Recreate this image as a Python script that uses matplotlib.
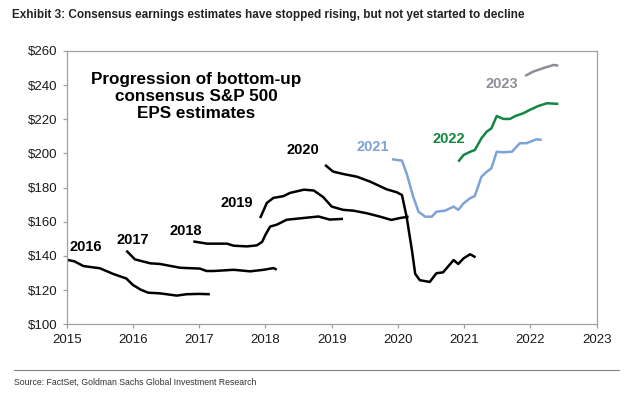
import matplotlib
matplotlib.use("Agg")
import matplotlib.pyplot as plt

plt.rcParams['font.family'] = ['Liberation Sans', 'DejaVu Sans']

# EPS estimate paths (x in fractional years)
x_2016 = [2015.0, 2015.12, 2015.25, 2015.5, 2015.7, 2015.9, 2016.0, 2016.12,
          2016.23, 2016.41, 2016.66, 2016.81, 2017.0, 2017.16]
y_2016 = [137.8, 136.8, 134.1, 132.8, 129.5, 126.8, 123.0, 120.2,
          118.5, 118.1, 116.8, 117.6, 117.8, 117.6]

x_2017 = [2015.9, 2016.03, 2016.26, 2016.41, 2016.71, 2017.01, 2017.11,
          2017.22, 2017.52, 2017.77, 2017.97, 2018.12, 2018.17]
y_2017 = [143.1, 138.0, 135.7, 135.3, 133.1, 132.6, 131.2,
          131.2, 131.9, 131.0, 131.9, 132.9, 132.0]

x_2018 = [2016.91, 2017.12, 2017.42, 2017.52, 2017.72, 2017.87, 2017.95,
          2018.0, 2018.07, 2018.17, 2018.32, 2018.52, 2018.8, 2018.97,
          2019.17]
y_2018 = [148.5, 147.2, 147.2, 146.0, 145.6, 146.2, 148.3,
          152.4, 157.2, 158.3, 161.2, 162.0, 163.1, 161.3,
          161.7]

x_2019 = [2017.92, 2018.02, 2018.12, 2018.27, 2018.37, 2018.58, 2018.73,
          2018.87, 2019.0, 2019.17, 2019.33, 2019.53, 2019.73, 2019.9,
          2020.03, 2020.16]
y_2019 = [162.2, 171.0, 174.0, 175.0, 176.9, 178.8, 178.3,
          174.5, 168.9, 167.0, 166.5, 165.0, 163.0, 161.1,
          162.2, 163.0]

x_2020 = [2018.9, 2019.02, 2019.17, 2019.38, 2019.58, 2019.83, 2019.98,
          2020.06, 2020.13, 2020.21, 2020.26, 2020.33, 2020.48, 2020.58,
          2020.68, 2020.84, 2020.91, 2020.99, 2021.09, 2021.17]
y_2020 = [193.3, 189.4, 188.0, 186.4, 183.5, 179.0, 177.3,
          175.7, 163.0, 143.5, 129.5, 125.8, 124.8, 129.9,
          130.4, 137.6, 135.3, 138.6, 141.0, 139.2]

x_2021 = [2019.91, 2020.06, 2020.13, 2020.23, 2020.31, 2020.41, 2020.51,
          2020.58, 2020.71, 2020.84, 2020.91, 2020.99, 2021.09, 2021.16,
          2021.26, 2021.34, 2021.41, 2021.49, 2021.59, 2021.72, 2021.84,
          2021.94, 2022.09, 2022.17]
y_2021 = [196.6, 195.8, 188.4, 174.7, 165.9, 163.0, 163.0,
          165.9, 166.5, 168.9, 167.0, 170.8, 173.8, 175.1,
          186.4, 189.3, 191.3, 201.0, 200.7, 201.0, 206.0,
          206.0, 208.3, 207.9]

x_2022 = [2020.91, 2020.99, 2021.09, 2021.16, 2021.26, 2021.34, 2021.41,
          2021.49, 2021.59, 2021.69, 2021.77, 2021.89, 2021.99, 2022.12,
          2022.25, 2022.42]
y_2022 = [195.2, 199.1, 201.0, 202.0, 208.9, 212.8, 214.7,
          221.9, 220.2, 220.2, 221.9, 223.5, 225.5, 227.8,
          229.4, 229.0]

x_2023 = [2021.92, 2022.04, 2022.19, 2022.35, 2022.42]
y_2023 = [245.4, 247.9, 249.9, 251.8, 251.4]

years = ['2016', '2017', '2018', '2019', '2020', '2021', '2022', '2023']
label_x = [2015.29, 2016.0, 2016.8, 2017.57, 2018.57, 2019.62, 2020.77, 2021.57]
label_y = [145.1, 149.4, 154.8, 170.8, 202.0, 204.0, 208.5, 240.5]

BLACK = '#000000'
BLUE = '#7ea3d6'
GREEN = '#12873f'
GREY = '#8e8e98'
colors = [BLACK, BLACK, BLACK, BLACK, BLACK, BLUE, GREEN, GREY]

series = [(x_2016, y_2016), (x_2017, y_2017), (x_2018, y_2018),
          (x_2019, y_2019), (x_2020, y_2020), (x_2021, y_2021),
          (x_2022, y_2022), (x_2023, y_2023)]

fig = plt.figure(figsize=(6.3, 3.95), dpi=100)
ax = fig.add_axes([0.1059, 0.179, 0.8413, 0.692])

for (xs, ys), c in zip(series, colors):
    ax.plot(xs, ys, color=c, lw=1.8, solid_capstyle='butt')

for yr, lx, ly, c in zip(years, label_x, label_y, colors):
    ax.text(lx, ly, yr, color=c, fontsize=10.5, fontweight='bold',
            ha='center', va='center')

ax.text(2016.96, 233.3, 'Progression of bottom-up\nconsensus S&P 500\nEPS estimates',
        fontsize=12.3, fontweight='bold', ha='center', va='center',
        linespacing=1.15)

ax.set_xlim(2015, 2023)
ax.set_ylim(100, 260)
ax.set_xticks(range(2015, 2024))
ax.set_yticks(range(100, 261, 20))
ax.set_yticklabels(['$%d' % v for v in range(100, 261, 20)])

for s in ax.spines.values():
    s.set_color('#a0a0a0')
    s.set_linewidth(0.9)
ax.tick_params(axis='both', colors='#a0a0a0', labelcolor='#1a1a1a',
               labelsize=9.5, length=3, width=0.9)
ax.tick_params(axis='x', pad=4)

fig.text(0.019, 0.962, 'Exhibit 3: Consensus earnings estimates have stopped rising, '
         'but not yet started to decline',
         fontsize=8.5, fontweight='bold', color='#222222', va='center')

fig.add_artist(plt.Line2D([0.022, 0.982], [0.063, 0.063],
                          color='#808080', lw=0.8, transform=fig.transFigure))
fig.text(0.022, 0.032, 'Source: FactSet, Goldman Sachs Global Investment Research',
         fontsize=6.3, color='#333333', va='center')

fig.savefig('out.png', dpi=100)
